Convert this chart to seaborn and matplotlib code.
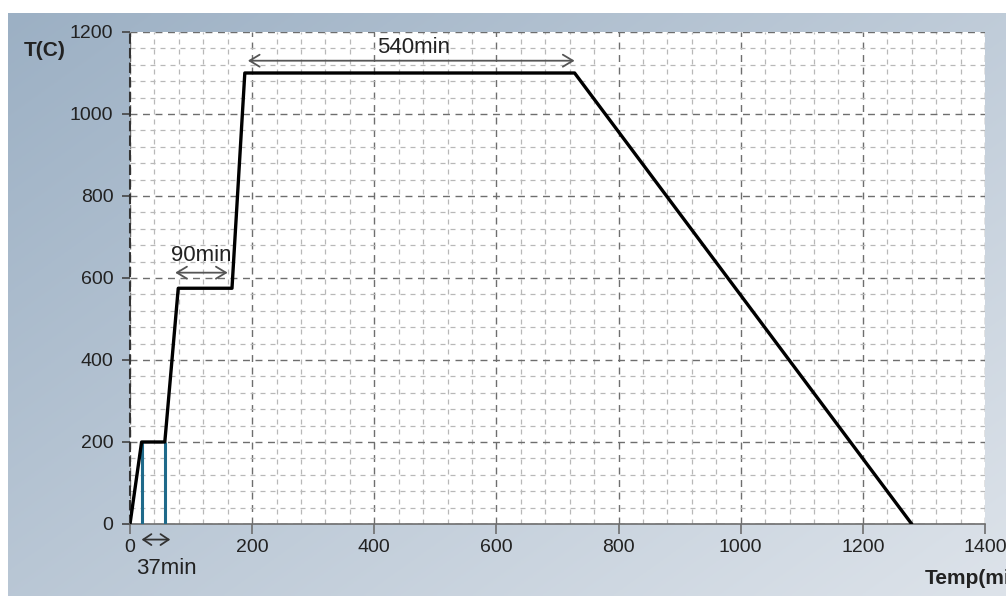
import numpy as np
import pandas as pd
import matplotlib
matplotlib.use("Agg")
import matplotlib.pyplot as plt
from matplotlib.ticker import MultipleLocator
import seaborn as sns

# Heat-treatment cycle: time (min) vs furnace temperature (C)
time_min = [0, 19, 57, 79, 167, 188, 728, 1280]
temp_c = [0, 200, 200, 575, 575, 1100, 1100, 0]

# Vertical markers bounding the first 200 C hold
hold_marks = [19, 57]
hold_top = 200

# Duration annotations: (label, start, end, arrow height, text x, text y)
spans = [
    ("540min", 193, 728, 1130, 465, 1163),
    ("90min", 74, 160, 613, 117, 655),
]

x_ticks = [0, 200, 400, 600, 800, 1000, 1200, 1400]
y_ticks = [0, 200, 400, 600, 800, 1000, 1200]

sns.set_theme(style="white")
plt.rcParams["font.family"] = ["Liberation Sans", "DejaVu Sans"]

W, H = 1006, 596
fig = plt.figure(figsize=(W / 100, H / 100), dpi=100)
fig.patch.set_facecolor("white")

# Blue-grey gradient panel behind the chart
bg = fig.add_axes([8 / W, 0, 1 - 8 / W, 1 - 13 / H], zorder=-5)
gx, gy = np.meshgrid(np.linspace(0, 1, 300), np.linspace(0, 1, 200))
t = np.clip(0.55 * gx + 0.45 * gy, 0, 1)
c0 = np.array([0x9c, 0xb0, 0xc4]) / 255
c1 = np.array([0xdd, 0xe3, 0xea]) / 255
img = c0[None, None, :] * (1 - t[..., None]) + c1[None, None, :] * t[..., None]
bg.imshow(img, aspect="auto", extent=[0, 1, 0, 1], origin="upper")
bg.axis("off")

ax = fig.add_axes([130 / W, 1 - 524 / H, (985 - 130) / W, (524 - 32) / H])
ax.set_facecolor("white")

df = pd.DataFrame({"time": time_min, "temp": temp_c})
sns.lineplot(data=df, x="time", y="temp", ax=ax, color="black", linewidth=2.4,
             sort=False, zorder=5)

ax.vlines(hold_marks, 0, hold_top, color="#1f6a8a", linewidth=2.2, zorder=4)

ax.set_xlim(0, 1400)
ax.set_ylim(0, 1200)
ax.set_xticks(x_ticks)
ax.set_yticks(y_ticks)
ax.xaxis.set_minor_locator(MultipleLocator(40))
ax.yaxis.set_minor_locator(MultipleLocator(40))
ax.grid(which="major", linestyle=(0, (5, 4)), color="#6e6e6e", linewidth=1.0)
ax.grid(which="minor", linestyle=(0, (4, 4)), color="#b8b8b8", linewidth=0.9)
ax.set_axisbelow(True)

for side in ("top", "right"):
    ax.spines[side].set_visible(False)
ax.spines["left"].set_color("#333333")
ax.spines["left"].set_linestyle((0, (4, 3)))
ax.spines["left"].set_linewidth(1.5)
ax.spines["bottom"].set_color("#6e6e6e")
ax.spines["bottom"].set_linewidth(1.2)

ax.tick_params(axis="y", which="major", direction="out", length=6, width=1.2,
               color="#444444", labelsize=14, labelcolor="#222222", pad=6, left=True)
ax.tick_params(axis="x", which="major", direction="out", length=7, width=1.2,
               color="#6e6e6e", labelsize=14, labelcolor="#222222", pad=4, bottom=True)
ax.tick_params(which="minor", length=0)
ax.set_xlabel("")
ax.set_ylabel("")

arrow_kw = dict(arrowstyle="<->,head_length=0.4,head_width=0.24", color="#555555",
                lw=1.3, mutation_scale=18, shrinkA=0, shrinkB=0)
for label, x0, x1, ya, tx, ty in spans:
    ax.annotate("", xy=(x0, ya), xytext=(x1, ya), arrowprops=arrow_kw, zorder=6)
    ax.text(tx, ty, label, ha="center", va="center", fontsize=16, color="#222222", zorder=6)

# 37 min span drawn beneath the time axis
short_kw = dict(arrow_kw, arrowstyle="<->,head_length=0.42,head_width=0.28",
                mutation_scale=14, color="#333333")
ax.annotate("", xy=(19, -38), xytext=(66, -38), arrowprops=short_kw,
            annotation_clip=False)
ax.text(60, -108, "37min", ha="center", va="center", fontsize=16, color="#222222",
        clip_on=False)

fig.text(45 / W, 1 - 50 / H, "T(C)", ha="center", va="center", fontsize=15,
         fontweight="bold", color="#222222")
fig.text(925 / W, 1 - 578 / H, "Temp(min)", ha="left", va="center", fontsize=15,
         fontweight="bold", color="#222222")

fig.savefig("out.png", dpi=100)
